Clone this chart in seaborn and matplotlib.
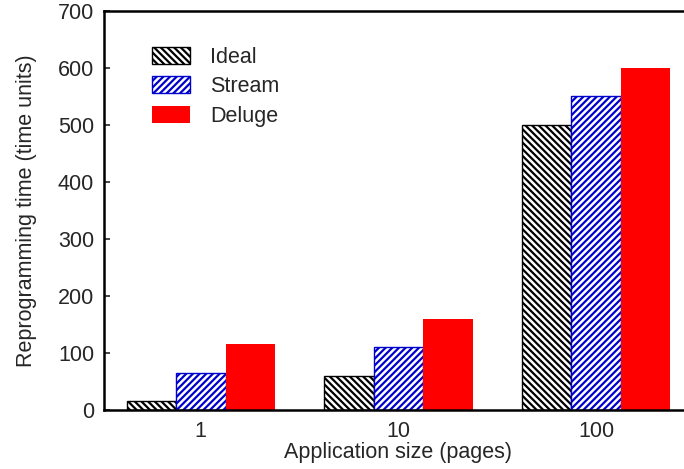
import pandas as pd
import numpy as np
import matplotlib
matplotlib.use("Agg")
import matplotlib.pyplot as plt
import seaborn as sns

# values
sizes = ["1", "10", "100"]
ideal = [15, 60, 500]
stream = [65, 110, 550]
deluge = [115, 160, 600]

data = pd.DataFrame({
    "size": sizes * 3,
    "time": ideal + stream + deluge,
    "scheme": ["Ideal"] * 3 + ["Stream"] * 3 + ["Deluge"] * 3,
})

sns.set_style("white")
plt.rcParams['font.family'] = ['Liberation Sans', 'DejaVu Sans']
plt.rcParams['hatch.linewidth'] = 1.6
fs = 15.5

fig = plt.figure(figsize=(6.84, 4.69), dpi=100)
ax = fig.add_axes([0.152, 0.126, 0.861, 0.851])

sns.barplot(data=data, x="size", y="time", hue="scheme", width=0.75,
            palette=["white", "white", "red"], saturation=1, legend=False, ax=ax)

# hatch and edge style per series
styles = [("\\" * 5, "black"), ("/" * 5, "#0000cc"), (None, "red")]
for cont, (hatch, col) in zip(ax.containers, styles):
    for bar in cont:
        bar.set_edgecolor(col)
        bar.set_linewidth(1.0 if hatch else 0)
        if hatch:
            bar.set_hatch(hatch)

ax.legend([c[0] for c in ax.containers], ["Ideal", "Stream", "Deluge"],
          loc="upper left", bbox_to_anchor=(0.067, 0.932), borderaxespad=0,
          frameon=False, fontsize=fs, handlelength=1.77, handleheight=0.84,
          handletextpad=0.93, labelspacing=0.41)

ax.set_xlim(-0.49, 2.49)
ax.set_ylim(0, 700)
ax.set_yticks(range(0, 701, 100))
ax.set_xlabel("Application size (pages)", fontsize=fs, labelpad=0)
ax.set_ylabel("Reprogramming time (time units)", fontsize=fs, labelpad=15)
ax.tick_params(axis="y", direction="in", length=4, width=1.2, labelsize=fs, pad=7, left=True)
ax.tick_params(axis="x", length=0, labelsize=fs, pad=8)
for side in ["left", "top", "bottom"]:
    ax.spines[side].set_linewidth(1.8)
    ax.spines[side].set_color("black")
ax.spines["right"].set_visible(False)

fig.savefig("out.png", dpi=100)
